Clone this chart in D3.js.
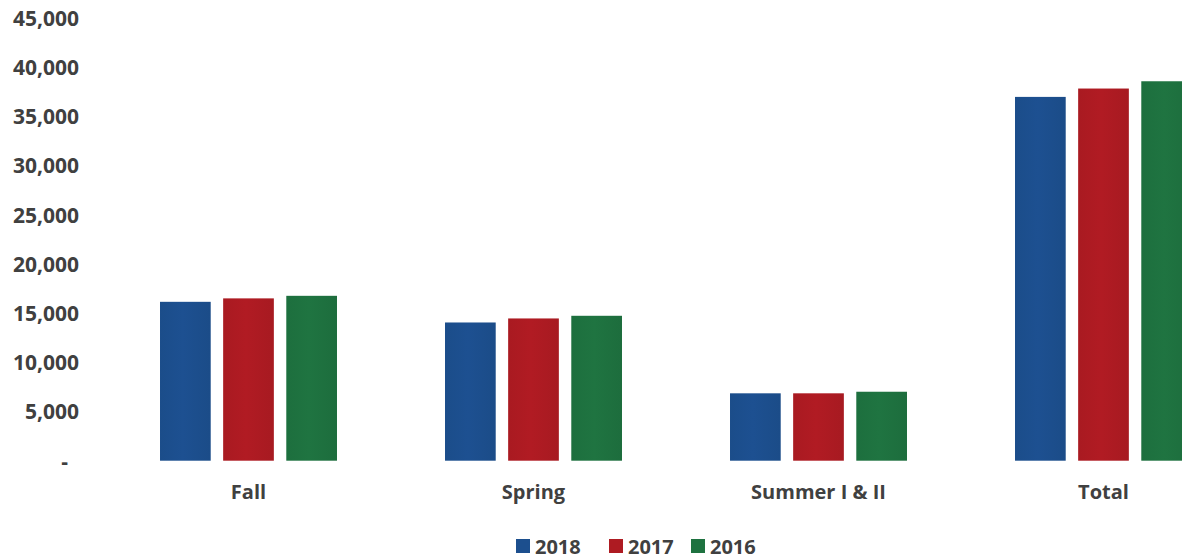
<!DOCTYPE html>
<html>
<head>
<meta charset="utf-8">
<script src="https://cdn.jsdelivr.net/npm/d3@7.9.0/dist/d3.min.js"></script>
<style>
  html, body { margin: 0; padding: 0; background: #fff; }
  svg { display: block; font-family: "Open Sans", Lato, sans-serif; }
  .tick text, .cat, .legend text { fill: #404040; font-weight: 700; }
</style>
</head>
<body>
<svg id="chart" width="1182" height="558"></svg>
<script>
// data
const categories = ["Fall", "Spring", "Summer I & II", "Total"];
const years = ["2018", "2017", "2016"];
const values2018 = [16150, 14050, 6850, 36980];
const values2017 = [16500, 14460, 6850, 37830];
const values2016 = [16760, 14730, 7010, 38570];
const yTicks = [0, 5000, 10000, 15000, 20000, 25000, 30000, 35000, 40000, 45000];
const colorList = ["#1c4f8e", "#ae1b22", "#1e7240"];

const seriesByYear = { "2018": values2018, "2017": values2017, "2016": values2016 };
const rows = categories.map((c, i) => ({
  cat: c,
  vals: years.map(y => ({ year: y, value: seriesByYear[y][i] }))
}));

const svg = d3.select("#chart");

// scales (plot area runs past the right edge, like the cropped original)
const x0 = d3.scaleBand().domain(categories).range([106, 1246])
  .paddingInner(0.379).paddingOuter(0.1895);
const x1 = d3.scaleBand().domain(years).range([0, x0.bandwidth()]).paddingInner(0.197);
const y = d3.scaleLinear().domain([0, 45000]).range([460.7, 18]);
const color = d3.scaleOrdinal().domain(years).range(colorList);

// soft shading on bars, a bit like the scanned original
const defs = svg.append("defs");
years.forEach(yr => {
  const base = d3.color(color(yr));
  const g = defs.append("linearGradient").attr("id", "g" + yr)
    .attr("x1", "0%").attr("x2", "100%").attr("y1", "0%").attr("y2", "0%");
  g.append("stop").attr("offset", "0%").attr("stop-color", base.darker(0.08));
  g.append("stop").attr("offset", "45%").attr("stop-color", base.brighter(0.05));
  g.append("stop").attr("offset", "100%").attr("stop-color", base.darker(0.12));
});

// y axis, labels only
const yAxis = svg.append("g")
  .attr("transform", "translate(79,0)")
  .call(d3.axisLeft(y).tickValues(yTicks).tickSize(0).tickPadding(0)
    .tickFormat(d => d === 0 ? "-" : d3.format(",")(d)));
yAxis.select(".domain").remove();
yAxis.selectAll(".tick text")
  .attr("font-size", 21)
  .attr("font-family", "'Open Sans', sans-serif")
  .attr("dy", "0.35em")
  .attr("x", d => d === 0 ? -11 : 0);

// bars
const groups = svg.append("g").selectAll("g")
  .data(rows).join("g")
  .attr("transform", d => `translate(${x0(d.cat)},0)`);

groups.selectAll("rect")
  .data(d => d.vals).join("rect")
  .attr("x", d => x1(d.year))
  .attr("width", x1.bandwidth())
  .attr("y", d => y(d.value))
  .attr("height", d => y(0) - y(d.value))
  .attr("fill", d => `url(#g${d.year})`);

// category labels
svg.append("g").selectAll("text")
  .data(categories).join("text")
  .attr("class", "cat")
  .attr("x", d => x0(d) + x0.bandwidth() / 2)
  .attr("y", 499)
  .attr("text-anchor", "middle")
  .attr("font-size", 20)
  .text(d => d);

// legend
const legendX = [516, 609, 691];
const legend = svg.append("g").attr("class", "legend");
years.forEach((yr, i) => {
  const g = legend.append("g").attr("transform", `translate(${legendX[i]},539)`);
  g.append("rect").attr("width", 14).attr("height", 14).attr("fill", color(yr));
  g.append("text").attr("x", 19).attr("y", 14.5).attr("font-size", 20).text(yr);
});
</script>
</body>
</html>
